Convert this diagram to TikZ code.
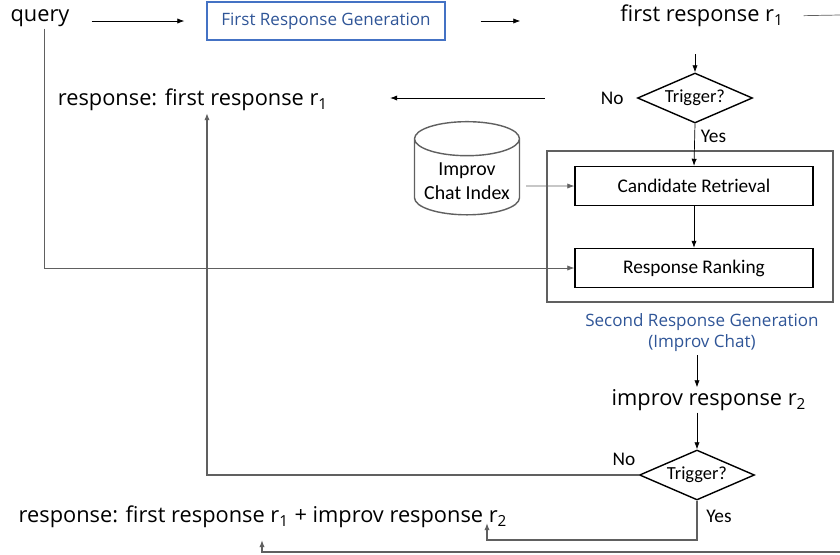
\documentclass[tikz,border=0pt]{standalone}
\usepackage{fontspec}
\setmainfont{Open Sans}
\newfontfamily\boxfont{Carlito}
\usetikzlibrary{shapes.geometric,arrows.meta,positioning}
\definecolor{stageblue}{HTML}{2F5597}
\definecolor{frameblue}{HTML}{4472C4}
\tikzset{
  >={Latex[length=4pt,width=3pt]},
  label/.style={font=\fontsize{12.4}{14}\selectfont,inner sep=1pt},
  stage/.style={font=\fontsize{9.7}{12}\selectfont,text=stageblue,align=center},
  block/.style={draw,thick,minimum width=4.76cm,minimum height=0.78cm,font=\boxfont\fontsize{11}{12}\selectfont},
  check/.style={draw,thick,diamond,aspect=2.3,minimum width=2.3cm,minimum height=1cm,inner sep=0pt,font=\boxfont\fontsize{10.5}{11}\selectfont},
  tag/.style={font=\boxfont\fontsize{11}{12}\selectfont},
  line/.style={gray!75!black},
}
\begin{document}
\begin{tikzpicture}[x=0.02cm,y=-0.02cm]
  \useasboundingbox (0,0) rectangle (840,555);
  % first pass
  \node[label] (query) at (40,18) {query};
  \node[draw=frameblue,thick,minimum width=4.76cm,minimum height=0.76cm,stage] (frg) at (326,21) {First Response Generation};
  \node[label] (fr1) at (702,16) {first response r\textsubscript{1}};
  \node[check] (trig1) at (695,98) {Trigger?};
  \node[tag,left=4pt of trig1] {No};
  \node[label] (out1) at (193,100) {response: first response r\textsubscript{1}};
  \draw[->,shorten <=0.4cm,shorten >=0.44cm] (query.east |- frg) -- (frg.west);
  \draw[->,shorten <=0.7cm,shorten >=1.96cm] (frg.east) -- (frg.east -| fr1.west);
  \draw[->] (fr1.south -| trig1) ++(0,25) -- (trig1.north);
  \draw[->,shorten <=1.84cm,shorten >=1.2cm] (trig1.west) -- (trig1.west -| out1.east);
  % improv chat
  \node[block] (crt) at (694,186) {Candidate Retrieval};
  \node[block] (rrk) at (694,268) {Response Ranking};
  \draw[line,thick] (547,151) rectangle (833,302);
  \node[draw,thick,line,cylinder,shape border rotate=90,aspect=0.35,minimum width=2.1cm,minimum height=1.64cm,
        font=\boxfont\fontsize{11.3}{14}\selectfont,text=black,align=center] (idx) at (467,181) {Improv\\Chat Index};
  \node[stage] (srg) at (702,333) {Second Response Generation\\(Improv Chat)};
  \draw[->] (trig1.south) -- (crt.north) node[tag,pos=0.3,right] {Yes};
  \draw[->,line] (idx.east) ++(6,5) -- (crt.west |- 0,186);
  \draw[->] (crt) -- (rrk);
  \draw[->,line] (query.south) ++(4,0) |- (rrk.west);
  % second pass
  \node[label] (ir2) at (709,400) {improv response r\textsubscript{2}};
  \node[check] (trig2) at (697,475) {Trigger?};
  \node[tag] (no2) at (624,459) {No};
  \node[label] (out2) at (263,517) {response: first response r\textsubscript{1} + improv response r\textsubscript{2}};
  \coordinate (tip1) at (262,540);
  \coordinate (tip2) at (487,523);
  \coordinate (rimtop) at (840,15);
  \coordinate (rimbot) at (840,552);
  \draw[->] (697,355) -- (ir2.north -| 697,0);
  \draw[->] (ir2.south -| 697,0) -- (trig2.north);
  \draw[->,line,thick] (trig2.west) -| ([xshift=0.28cm]out1.south);
  \draw[->,line,thick] (trig2.south) |- (tip2 |- 0,540) -- (tip2);
  \node[tag] (yes2) at (719,516) {Yes};
  \draw[line,shorten <=0.36cm] (fr1.east) -- (rimtop);
  \draw[->,line,thick] (rimbot) -| (tip1);
\end{tikzpicture}
\end{document}
